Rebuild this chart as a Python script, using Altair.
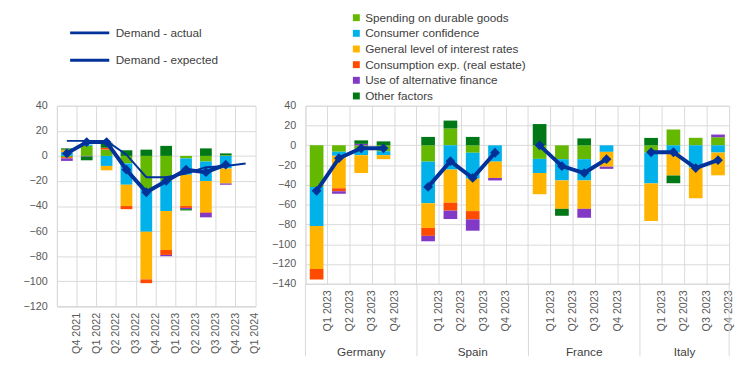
import altair as alt
import pandas as pd

# ---------------- data ----------------
factors = ["Spending on durable goods", "Consumer confidence", "General level of interest rates",
           "Consumption exp. (real estate)", "Use of alternative finance", "Other factors"]
factor_colors = ["#65B800", "#00B1EA", "#FFB400", "#FF4B00", "#8139C6", "#007816"]
line_series = ["Demand - actual", "Demand - expected"]
line_color = "#003299"

ea_quarters = ["Q4 2021", "Q1 2022", "Q2 2022", "Q3 2022", "Q4 2022",
               "Q1 2023", "Q2 2023", "Q3 2023", "Q4 2023", "Q1 2024"]
ea_durable = [-1, 8, 5, -6, -26.5, -20, -2, -4.5, 0.5]
ea_confidence = [3, 1, -8, -17, -34, -24, -13, -15.5, -10]
ea_interest = [2, 0, -3.5, -17, -38, -31, -25, -25, -12]
ea_consumption = [-1, 0, 1.5, -2.5, -3, -4, -1.5, -0.5, 0]
ea_altfin = [-2, -0.5, 0, 0, 0, -1, -1, -3.5, -1]
ea_other = [1, -3, 4, 4.5, 5, 8, -1, 6, 1.5]
ea_actual = [2, 11, 11, -11, -29, -20, -11, -13, -7]
ea_expected = [12, 12, 12, 1, -17, -17, -14, -9, -8, -6]

countries = ["Germany", "Spain", "France", "Italy"]
country_quarters = ["Q1 2023", "Q2 2023", "Q3 2023", "Q4 2023"]
# order: Germany Q1-Q4, Spain Q1-Q4, France Q1-Q4, Italy Q1-Q4
cty_durable = [-42, -6.5, -5, -6, -16.5, 17, -7.5, 0, -13.7, -14, -14, 0, -7.5, 16, 7.6, 8.2]
cty_confidence = [-39.5, -4, -5, -4, -42, -24.5, -26, -16.5, -14.3, -21.5, -21.5, -6.6, -31, -7.5, -22.5, -7.3]
cty_interest = [-43.5, -33, -18, -4, -25, -33.5, -33, -16.5, -21.4, -28.7, -28.7, -15, -38, -23, -31, -23]
cty_consumption = [-10.5, -3, 0, 0, -8, -8, -8.3, 0, 0, 0, 0, 0, 0, 0, 0, 0]
cty_altfin = [0, -2.5, 1.5, 0, -5.5, -8.5, -11.5, -2.5, 0, 0, -9, -2.2, 0, 0, 0, 2.7]
cty_other = [0, 0, 3.5, 4, 8.5, 8, 8.5, 0, 21.5, -7, 7, 0, 7.5, -7.8, 0, 0]
cty_actual = [-46, -13, -3, -3, -42, -16, -33, -7.5, 0, -21, -28, -14, -7, -7, -23, -15]

# ---------------- tables ----------------
ea_series = [ea_durable, ea_confidence, ea_interest, ea_consumption, ea_altfin, ea_other]
rows = []
for k, (f, vals) in enumerate(zip(factors, ea_series)):
    for q, v in zip(ea_quarters, vals):
        rows.append({"quarter": q, "factor": f, "k": k, "value": float(v)})
ea_bars = pd.DataFrame(rows)
ea_act = pd.DataFrame({"quarter": ea_quarters[:len(ea_actual)], "series": line_series[0],
                       "value": [float(v) for v in ea_actual]})
ea_exp = pd.DataFrame({"quarter": ea_quarters, "series": line_series[1],
                       "value": [float(v) for v in ea_expected]})

# slots of the country panel: quarters made unique with zero-width spaces, blank gap slots
ZW = "\u200b"
slot_order = []
slot_rows = []
for i, c in enumerate(countries):
    for q in country_quarters:
        s = q + ZW * i
        slot_order.append(s)
        slot_rows.append((c, q, s))
    if i < len(countries) - 1:
        slot_order.append(" " * (i + 1))

cty_series = [cty_durable, cty_confidence, cty_interest, cty_consumption, cty_altfin, cty_other]
rows = []
for k, (f, vals) in enumerate(zip(factors, cty_series)):
    for (c, q, s), v in zip(slot_rows, vals):
        rows.append({"slot": s, "country": c, "factor": f, "k": k, "value": float(v)})
cty_bars = pd.DataFrame(rows)
cty_line = pd.DataFrame([{"slot": s, "country": c, "value": float(v)}
                         for (c, q, s), v in zip(slot_rows, cty_actual)])

# country label anchors (middle of each group) and group separators
first_slot = {c: s for (c, q, s) in reversed(slot_rows)}
third_slot = {c: s for (c, q, s) in slot_rows if q == country_quarters[2]}
lab_mid = pd.DataFrame({"country": countries[:-1], "slot": [third_slot[c] for c in countries[:-1]]})
lab_last = pd.DataFrame({"country": countries[-1:], "slot": [third_slot[countries[-1]]]})
sep_start = pd.DataFrame({"slot": [first_slot[c] for c in countries]})
sep_end = pd.DataFrame({"slot": [slot_rows[-1][2]]})

GRID = "#d9d9d9"
FONT = "Liberation Sans"
LW, LH = 203, 205
RW, RH = 433, 182

color_enc = alt.Color(
    "factor:N",
    scale=alt.Scale(domain=factors, range=factor_colors),
    legend=alt.Legend(title=None, orient="none", legendX=300, legendY=-96, padding=0,
                      symbolType="square", symbolSize=50, symbolStrokeWidth=0,
                      rowPadding=4, labelFontSize=12, labelOffset=3, labelLimit=0),
)
stroke_enc = alt.Stroke(
    "series:N",
    scale=alt.Scale(domain=line_series, range=[line_color, line_color]),
    legend=alt.Legend(title=None, orient="none", legendX=12, legendY=-96, padding=0,
                      symbolType="stroke", symbolSize=1600, symbolStrokeWidth=3,
                      rowPadding=-6, labelFontSize=12, labelOffset=5, labelLimit=0),
)

# ---------------- left panel ----------------
x_left = alt.X("quarter:N", scale=alt.Scale(domain=ea_quarters, paddingInner=0, paddingOuter=0),
               axis=alt.Axis(title=None, labelAngle=-90, ticks=False, grid=True, gridColor=GRID,
                             bandPosition=0, labelOffset=LW / len(ea_quarters) / 2,
                             domainColor=GRID, labelPadding=6))
y_left = alt.Y("value:Q", scale=alt.Scale(domain=[-120, 40], nice=False),
               axis=alt.Axis(title=None, values=list(range(-120, 41, 20)), grid=True, gridColor=GRID,
                             ticks=False, domain=False, labelPadding=10))

left_bars = alt.Chart(ea_bars).mark_bar(size=12).encode(
    x=x_left, y=y_left, color=color_enc, order=alt.Order("k:Q"))
left_exp = alt.Chart(ea_exp).mark_line(strokeWidth=2).encode(x=x_left, y=y_left, stroke=stroke_enc)
left_act = alt.Chart(ea_act).mark_line(strokeWidth=4).encode(x=x_left, y=y_left, stroke=stroke_enc)
left_pts = alt.Chart(ea_act).mark_point(shape="diamond", filled=True, size=100, opacity=1,
                                        color=line_color).encode(x=x_left, y=y_left)
left = alt.layer(left_bars, left_exp, left_act, left_pts).properties(width=LW, height=LH)

# ---------------- right panel ----------------
x_right = alt.X("slot:N", scale=alt.Scale(domain=slot_order, paddingInner=0, paddingOuter=0),
                axis=alt.Axis(title=None, labelAngle=-90, ticks=False, grid=True, gridColor=GRID,
                              bandPosition=0, labelOffset=RW / len(slot_order) / 2,
                              domainColor=GRID, labelPadding=6))
y_right = alt.Y("value:Q", scale=alt.Scale(domain=[-140, 40], nice=False),
                axis=alt.Axis(title=None, values=list(range(-140, 41, 20)), grid=True, gridColor=GRID,
                              ticks=False, domain=False, labelPadding=10))

right_bars = alt.Chart(cty_bars).mark_bar(size=14).encode(
    x=x_right, y=y_right, color=color_enc, order=alt.Order("k:Q"))
right_line = alt.Chart(cty_line).mark_line(color=line_color, strokeWidth=4).encode(
    x=x_right, y=y_right, detail="country:N")
right_pts = alt.Chart(cty_line).mark_point(shape="diamond", filled=True, size=100, opacity=1,
                                           color=line_color).encode(x=x_right, y=y_right)
sep1 = alt.Chart(sep_start).mark_rule(color=GRID, strokeWidth=1).encode(
    x=alt.X("slot:N", bandPosition=0), y=alt.value(RH), y2=alt.value(RH + 74))
sep2 = alt.Chart(sep_end).mark_rule(color=GRID, strokeWidth=1).encode(
    x=alt.X("slot:N", bandPosition=1), y=alt.value(RH), y2=alt.value(RH + 74))
txt1 = alt.Chart(lab_mid).mark_text(font=FONT, fontSize=12, color="#404040").encode(
    x=alt.X("slot:N"), y=alt.value(RH + 70), text="country:N")
txt2 = alt.Chart(lab_last).mark_text(font=FONT, fontSize=12, color="#404040").encode(
    x=alt.X("slot:N", bandPosition=0), y=alt.value(RH + 70), text="country:N")
right = alt.layer(right_bars, right_line, right_pts, sep1, sep2, txt1, txt2).properties(width=RW, height=RH)

chart = alt.hconcat(left, right, spacing=9).properties(
    padding={"left": 14, "top": 0, "right": 2, "bottom": 0}
).configure_view(stroke=GRID).configure_axis(
    labelFont=FONT, labelFontSize=11, labelColor="#595959"
).configure_legend(labelFont=FONT, labelColor="#404040")

chart.save("out.html", embed_options={"renderer": "svg", "actions": False})
